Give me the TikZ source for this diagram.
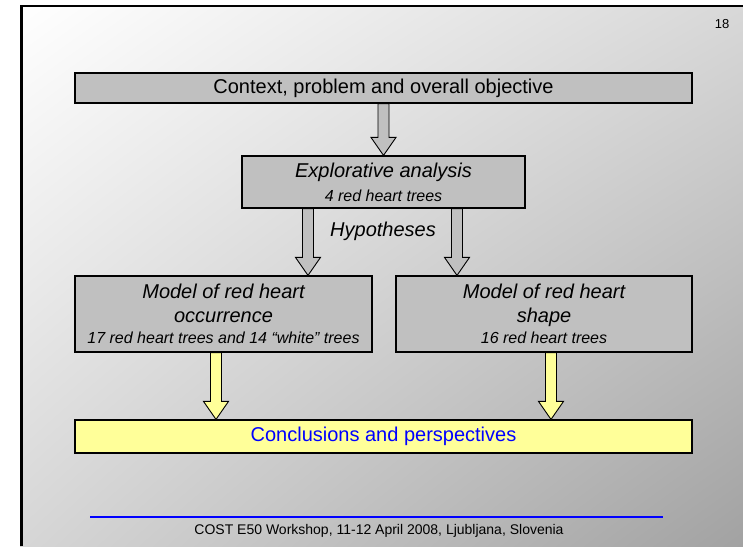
\documentclass[tikz,border=0pt]{standalone}
\usepackage{fontspec}
\setmainfont{Liberation Sans}
\usetikzlibrary{calc,shadings}
\definecolor{boxgray}{HTML}{C0C0C0}
\definecolor{boxyellow}{HTML}{FFFF99}
\definecolor{linkblue}{HTML}{0000FF}
\definecolor{bgtopright}{HTML}{D8D8D8}
\definecolor{bgbotleft}{HTML}{D6D6D6}
\definecolor{bgbotright}{HTML}{A2A2A2}

% block arrow from a point down to the top of a box
\newcommand{\fatarrow}[3]{%
  \draw[#1] let \p1=(#2), \p2=(#3) in
    (\x1-5.5pt,\y1) -- (\x1-5.5pt,\y2+18pt) -- (\x1-12.5pt,\y2+18pt) -- (\x1,\y2)
    -- (\x1+12.5pt,\y2+18pt) -- (\x1+5.5pt,\y2+18pt) -- (\x1+5.5pt,\y1) -- cycle;}

\tikzset{
  box/.style={draw=black, line width=1.2pt, fill=boxgray, inner sep=0pt, align=center,
    font=\fontsize{20}{24}\selectfont},
  yellowbox/.style={box, fill=boxyellow, text=linkblue},
  grayarrow/.style={draw=black, line width=0.9pt, fill=boxgray, line join=miter},
  yellowarrow/.style={grayarrow, fill=boxyellow}
}

\begin{document}
\begin{tikzpicture}[x=1pt,y=-1pt]
  \useasboundingbox (0,0) rectangle (743,546);
  \fill[white] (0,0) rectangle (743,546);
  \shade[upper left=white, upper right=bgtopright, lower left=bgbotleft, lower right=bgbotright]
    (20,5) rectangle (743,546);
  \draw[line width=2.6pt] (21.5,546) -- (21.5,6) -- (743,6);

  \node[font=\fontsize{13}{15}\selectfont] (page) at (722,24) {18};

  \node[box, minimum width=617, minimum height=30] (ctx) at (383.5,88)
    {Context, problem and overall objective};
  \node[box, font=\itshape\fontsize{20}{24}\selectfont, minimum width=283, minimum height=52] (expl) at (383.5,182)
    {Explorative analysis\\{\fontsize{16}{19}\selectfont 4 red heart trees}};
  \node[font=\itshape\fontsize{20}{24}\selectfont] (hyp) at (383,231) {Hypotheses};
  \node[box, font=\itshape\fontsize{20}{24}\selectfont, minimum width=297, minimum height=76] (occ) at (223.5,314)
    {Model of red heart\\occurrence\\[-3pt]{\fontsize{16}{19}\selectfont 17 red heart trees and 14 “white” trees}};
  \node[box, font=\itshape\fontsize{20}{24}\selectfont, minimum width=296, minimum height=76] (shp) at (544,314)
    {Model of red heart\\shape\\[-3pt]{\fontsize{16}{19}\selectfont 16 red heart trees}};
  \node[yellowbox, minimum width=617, minimum height=33] (concl) at (383.5,436.5)
    {Conclusions and perspectives};

  \coordinate (hypL) at ([xshift=-75.5pt]expl.south);
  \coordinate (hypR) at ([xshift=73.5pt]expl.south);
  \coordinate (occout) at ([xshift=-7.5pt]occ.south);
  \coordinate (shpout) at ([xshift=7pt]shp.south);

  \fatarrow{grayarrow}{ctx.south}{expl.north}
  \fatarrow{grayarrow}{hypL}{occ.north}
  \fatarrow{grayarrow}{hypR}{shp.north}
  \fatarrow{yellowarrow}{occout}{concl.north}
  \fatarrow{yellowarrow}{shpout}{concl.north}

  \coordinate (ruleL) at (90,517);
  \coordinate (ruleR) at (663,517);
  \draw[linkblue, line width=2pt] (ruleL) -- (ruleR);
  \node[font=\fontsize{14}{16}\selectfont] (foot) at (379,530.5)
    {COST E50 Workshop, 11-12 April 2008, Ljubljana, Slovenia};
\end{tikzpicture}
\end{document}
